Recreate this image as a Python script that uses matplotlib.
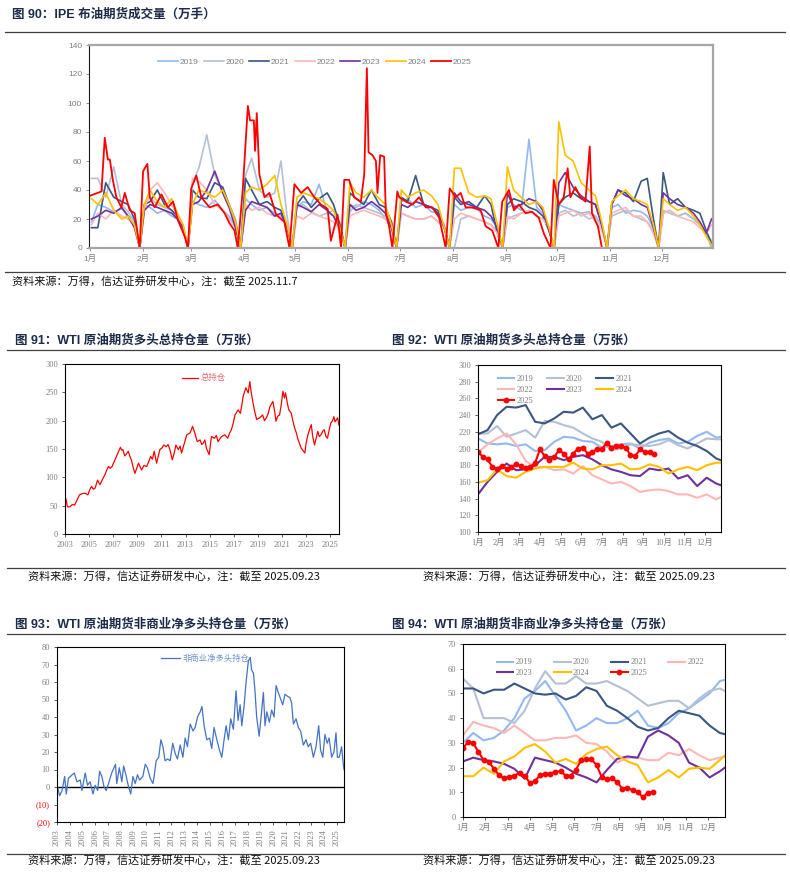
import matplotlib
matplotlib.use("Agg")
import matplotlib.pyplot as plt
from matplotlib.lines import Line2D

W, H = 790, 873

plt.rcParams['font.family'] = ['Liberation Sans', 'Noto Sans CJK SC']
plt.rcParams['axes.unicode_minus'] = False

YEARS = ["2019", "2020", "2021", "2022", "2023", "2024", "2025"]
COLORS = {
    "2019": "#92B9F2", "2020": "#B4C0D4", "2021": "#3A5683", "2022": "#FFB6B6",
    "2023": "#7030A0", "2024": "#FFC000", "2025": "#FF0000",
}
MONTHS = ["1月", "2月", "3月", "4月", "5月", "6月", "7月", "8月", "9月", "10月", "11月", "12月"]
MONTH_STARTS = [0, 31, 59, 90, 120, 151, 181, 212, 243, 273, 304, 334, 365]
GRID_FRACS = [0.03, 0.15, 0.3, 0.45, 0.6, 0.72, 0.84, 0.94]  # 8 readings per month

# ---- fig 90: IPE Brent volume (10k lots), 8 readings per month for past years
P90 = {
    "2019": [18, 30, 28, 25, 27, 22, 20, 0, 30, 28, 24, 26, 22, 20, 15, 0,
             32, 30, 28, 33, 26, 22, 14, 0, 34, 30, 26, 28, 24, 22, 16, 0,
             28, 32, 30, 44, 25, 22, 12, 0, 30, 28, 32, 30, 26, 20, 14, 0,
             32, 34, 28, 30, 25, 24, 16, 0, 30, 26, 28, 27, 22, 20, 14, 0,
             28, 30, 26, 75, 28, 24, 14, 0, 30, 28, 26, 24, 25, 22, 15, 0,
             28, 30, 24, 26, 25, 22, 14, 0, 24, 26, 22, 24, 20, 16, 10, 0],
    "2020": [48, 48, 35, 56, 30, 25, 18, 0, 30, 35, 30, 28, 26, 20, 12, 0,
             45, 55, 78, 50, 40, 30, 20, 0, 50, 62, 40, 35, 38, 60, 22, 0,
             28, 30, 25, 22, 24, 26, 18, 0, 25, 30, 28, 26, 24, 22, 18, 0,
             24, 22, 20, 20, 22, 18, 14, 0, 0, 20, 22, 20, 18, 16, 12, 0,
             20, 22, 24, 26, 22, 20, 14, 0, 24, 26, 22, 24, 20, 22, 14, 0,
             22, 24, 26, 22, 20, 18, 12, 0, 26, 24, 22, 24, 20, 18, 10, 5],
    "2021": [14, 14, 45, 35, 32, 30, 20, 0, 30, 32, 40, 30, 26, 22, 14, 0,
             40, 35, 34, 45, 42, 30, 18, 0, 48, 40, 30, 32, 28, 26, 15, 0,
             30, 36, 28, 34, 38, 30, 16, 0, 38, 34, 30, 40, 30, 28, 18, 0,
             35, 32, 50, 30, 28, 26, 14, 0, 35, 30, 32, 28, 36, 30, 10, 0,
             30, 34, 32, 28, 26, 22, 12, 0, 30, 35, 38, 34, 32, 30, 16, 0,
             30, 40, 38, 32, 46, 48, 20, 0, 52, 30, 34, 28, 26, 24, 12, 3],
    "2022": [16, 24, 20, 26, 22, 20, 16, 0, 26, 40, 45, 38, 30, 22, 14, 0,
             48, 46, 40, 30, 26, 20, 14, 0, 30, 26, 28, 24, 22, 22, 16, 0,
             22, 20, 24, 22, 20, 18, 12, 0, 22, 24, 26, 24, 22, 20, 14, 0,
             24, 22, 20, 20, 22, 18, 14, 0, 20, 24, 22, 20, 18, 16, 10, 0,
             22, 20, 24, 26, 22, 20, 14, 0, 22, 24, 26, 22, 24, 18, 12, 0,
             24, 26, 28, 22, 22, 18, 10, 0, 24, 26, 22, 20, 18, 14, 10, 16],
    "2023": [20, 22, 26, 24, 28, 22, 14, 0, 26, 30, 28, 26, 24, 20, 14, 0,
             30, 32, 40, 53, 38, 28, 14, 0, 26, 32, 30, 28, 22, 24, 14, 0,
             30, 28, 25, 30, 26, 22, 14, 0, 30, 26, 28, 32, 28, 24, 14, 0,
             30, 28, 32, 30, 28, 24, 14, 0, 38, 32, 30, 28, 26, 22, 14, 0,
             38, 28, 30, 34, 32, 26, 12, 0, 45, 52, 42, 36, 32, 30, 16, 0,
             30, 40, 36, 34, 30, 28, 14, 0, 38, 34, 30, 28, 24, 18, 10, 20],
    "2024": [34, 30, 38, 26, 20, 22, 16, 0, 30, 40, 32, 28, 34, 24, 16, 0,
             30, 40, 38, 35, 40, 30, 18, 0, 38, 42, 40, 44, 50, 30, 16, 0,
             35, 38, 36, 34, 30, 26, 14, 0, 45, 38, 35, 40, 34, 30, 16, 0,
             40, 35, 38, 40, 36, 30, 14, 0, 55, 55, 38, 35, 36, 34, 16, 0,
             56, 40, 35, 30, 32, 28, 14, 0, 87, 64, 60, 45, 40, 36, 18, 0,
             32, 36, 40, 34, 32, 30, 16, 0, 34, 30, 26, 28, 22, 16, 8, 2],
}
# 2025 daily readings: (day of year, volume)
P90_2025 = [
    (0, 36), (6.8, 39), (8.7, 76), (10.5, 61), (11.7, 61), (13.4, 47), (15.5, 35),
    (18.4, 28), (20.4, 38), (23.3, 26), (26.2, 24), (29.1, 0), (31.1, 53), (33.6, 58),
    (35, 35), (37.9, 28), (41.8, 37), (45.6, 28), (48.6, 32), (51.5, 19), (55.4, 8),
    (57.3, 0), (59.2, 41), (62.2, 50), (65.1, 35), (69.9, 28), (74.8, 30), (78.7, 24),
    (81.6, 17), (84.5, 12), (86.4, 0), (89.3, 40), (92.3, 98), (93.6, 88), (95.8, 88),
    (96.5, 67), (97.5, 93), (99, 51), (102, 35), (104.9, 38), (108.8, 23), (113.6, 18),
    (116.6, 0), (119.5, 44), (123.4, 38), (127.2, 42), (131.1, 35), (135, 30),
    (138.9, 27), (140.8, 5), (144.7, 23), (146.7, 0), (148.6, 47), (151.5, 47),
    (154.4, 35), (158.3, 32), (160.3, 51), (161.8, 124), (162.8, 66), (165.1, 64),
    (167.1, 60), (168, 38), (169.6, 64), (171.9, 63), (172.9, 24), (174.8, 15),
    (176.7, 0), (179.6, 39), (180.7, 35), (184.6, 32), (188.4, 30), (192.3, 35),
    (196.2, 28), (200.1, 28), (204, 21), (207.9, 0), (210.2, 41), (213.7, 35),
    (216.6, 38), (219.5, 28), (223.4, 28), (228.3, 26), (231.2, 15), (235.1, 12),
    (238.6, 0), (240.9, 32), (244.8, 40), (247.7, 26), (250.6, 30), (254.5, 24),
    (258.3, 25), (262.2, 21), (265.2, 10), (269.1, 0), (271, 47), (273.9, 30),
    (276.8, 35), (279.1, 55), (280.7, 35), (283.6, 42), (286.5, 35), (289.5, 32),
    (292, 70), (293.3, 24), (296.8, 15), (299.1, 0),
]

# ---- fig 91: WTI total long open interest (10k contracts)
P91 = [
    (2003.0, 66), (2003.1, 60), (2003.2, 48), (2003.4, 48), (2003.6, 52), (2003.8, 51),
    (2004.0, 60), (2004.2, 69), (2004.4, 71), (2004.66, 72), (2004.9, 69), (2005.05, 78),
    (2005.2, 84), (2005.35, 79), (2005.5, 81), (2005.7, 95), (2005.9, 87), (2006.1, 96),
    (2006.3, 104), (2006.45, 112), (2006.6, 119), (2006.75, 116), (2006.9, 119),
    (2007.15, 131), (2007.4, 143), (2007.6, 153), (2007.7, 148), (2007.8, 149),
    (2007.95, 138), (2008.05, 140), (2008.25, 146), (2008.4, 136), (2008.5, 131),
    (2008.65, 118), (2008.8, 107), (2008.95, 116), (2009.1, 125), (2009.35, 113),
    (2009.55, 121), (2009.77, 119), (2009.95, 128), (2010.1, 137), (2010.25, 132),
    (2010.4, 146), (2010.6, 125), (2010.75, 138), (2010.87, 149), (2011.05, 152),
    (2011.2, 157), (2011.4, 154), (2011.55, 158), (2011.7, 149), (2011.9, 131),
    (2012.05, 142), (2012.2, 157), (2012.4, 149), (2012.55, 155), (2012.67, 143),
    (2012.86, 157), (2013.1, 175), (2013.36, 178), (2013.5, 185), (2013.58, 190),
    (2013.77, 178), (2013.97, 163), (2014.2, 166), (2014.35, 158), (2014.46, 160),
    (2014.6, 166), (2014.74, 151), (2014.96, 140), (2015.15, 172), (2015.4, 169),
    (2015.55, 174), (2015.7, 163), (2015.98, 172), (2016.26, 175), (2016.5, 169),
    (2016.65, 178), (2016.8, 184), (2016.95, 195), (2017.1, 210), (2017.36, 219),
    (2017.55, 213), (2017.65, 225), (2017.78, 243), (2018.0, 258), (2018.2, 249),
    (2018.33, 269), (2018.45, 250), (2018.6, 231), (2018.75, 215), (2018.9, 202),
    (2019.15, 205), (2019.4, 210), (2019.55, 200), (2019.7, 205), (2019.85, 212),
    (2020.0, 225), (2020.25, 234), (2020.4, 215), (2020.5, 199), (2020.65, 208),
    (2020.8, 210), (2020.95, 230), (2021.08, 252), (2021.2, 240), (2021.3, 249),
    (2021.45, 230), (2021.57, 219), (2021.77, 213), (2021.9, 200), (2022.05, 187),
    (2022.2, 178), (2022.3, 169), (2022.45, 160), (2022.6, 151), (2022.75, 147),
    (2022.9, 143), (2023.0, 160), (2023.15, 175), (2023.3, 185), (2023.43, 193),
    (2023.55, 172), (2023.7, 157), (2023.85, 170), (2023.97, 181), (2024.1, 172),
    (2024.24, 175), (2024.4, 182), (2024.5, 184), (2024.65, 172), (2024.77, 169),
    (2024.9, 182), (2025.05, 196), (2025.2, 200), (2025.3, 207), (2025.4, 198),
    (2025.5, 201), (2025.62, 205), (2025.72, 192),
]

# ---- fig 93: WTI non-commercial net long (10k contracts)
P93 = [
    (2003.05, 0), (2003.2, -5), (2003.4, -2), (2003.6, 6), (2003.73, -4), (2003.9, 5),
    (2004.2, 7), (2004.36, 8), (2004.57, 3), (2004.83, 4), (2004.96, -2), (2005.22, 8),
    (2005.4, 1), (2005.6, 3), (2005.83, -4), (2006.0, 1), (2006.2, -2), (2006.35, 9),
    (2006.53, 6), (2006.7, 0), (2006.87, -2), (2007.05, 2), (2007.3, 8), (2007.6, 13),
    (2007.7, 2), (2007.9, 11), (2008.1, 3), (2008.24, 12), (2008.45, 6), (2008.63, 0),
    (2008.8, -4), (2008.97, 6), (2009.15, 2), (2009.33, 7), (2009.5, 4), (2009.75, 6),
    (2009.94, 13), (2010.1, 11), (2010.33, 5), (2010.54, 2), (2010.64, 6), (2010.8, 15),
    (2011.0, 17), (2011.17, 27), (2011.33, 23), (2011.5, 15), (2011.7, 16), (2011.9, 15),
    (2012.1, 25), (2012.3, 19), (2012.47, 16), (2012.69, 24), (2012.9, 17), (2013.08, 28),
    (2013.26, 23), (2013.47, 36), (2013.7, 32), (2013.86, 34), (2014.05, 40), (2014.26, 43),
    (2014.4, 46), (2014.57, 35), (2014.78, 27), (2015.0, 28), (2015.17, 22), (2015.35, 34),
    (2015.57, 27), (2015.78, 21), (2015.96, 17), (2016.14, 27), (2016.3, 35), (2016.48, 27),
    (2016.66, 39), (2016.87, 33), (2017.08, 55), (2017.24, 38), (2017.4, 47), (2017.53, 35),
    (2017.71, 46), (2017.87, 60), (2018.05, 72), (2018.2, 74), (2018.3, 67), (2018.45, 65),
    (2018.58, 54), (2018.7, 40), (2018.9, 29), (2019.1, 44), (2019.23, 54), (2019.36, 35),
    (2019.5, 43), (2019.7, 37), (2019.88, 44), (2020.07, 40), (2020.23, 58), (2020.4, 54),
    (2020.6, 50), (2020.75, 47), (2020.93, 53), (2021.1, 52), (2021.32, 51), (2021.45, 48),
    (2021.59, 36), (2021.8, 39), (2021.98, 34), (2022.16, 32), (2022.37, 24), (2022.58, 27),
    (2022.76, 23), (2022.95, 25), (2023.16, 17), (2023.37, 23), (2023.58, 35), (2023.73, 21),
    (2023.9, 17), (2024.07, 30), (2024.25, 25), (2024.4, 28), (2024.6, 17), (2024.78, 20),
    (2024.94, 31), (2025.05, 17), (2025.2, 17), (2025.38, 23), (2025.5, 14), (2025.57, 10),
]

# ---- fig 92 / 94: weekly by year; past years read every 2nd week plus week 51
WEEKS_PAST = [0, 2, 4, 6, 8, 10, 12, 14, 16, 18, 20, 22, 24, 26, 28, 30, 32, 34,
              36, 38, 40, 42, 44, 46, 48, 50, 51]
P92 = {
    "2019": [212, 206, 205, 206, 203, 205, 197, 198, 208, 214, 213, 209, 208, 201,
             203, 205, 206, 200, 207, 210, 212, 206, 208, 215, 220, 213, 214],
    "2020": [218, 218, 227, 214, 218, 222, 213, 233, 232, 228, 225, 218, 212, 208,
             198, 200, 205, 204, 203, 205, 210, 204, 200, 206, 212, 211, 211],
    "2021": [217, 222, 240, 250, 249, 252, 232, 230, 236, 244, 243, 249, 235, 240,
             225, 230, 218, 206, 213, 218, 221, 213, 207, 203, 197, 188, 186],
    "2022": [195, 205, 212, 218, 205, 185, 178, 178, 174, 175, 170, 179, 168, 163,
             158, 160, 155, 148, 150, 151, 149, 145, 145, 141, 145, 139, 142],
    "2023": [145, 160, 172, 182, 174, 175, 180, 190, 190, 186, 190, 192, 187, 180,
             175, 172, 168, 167, 176, 174, 176, 164, 168, 155, 165, 158, 156],
    "2024": [159, 162, 175, 167, 165, 172, 176, 178, 178, 178, 183, 176, 175, 180,
             180, 182, 175, 176, 181, 178, 170, 175, 178, 174, 180, 183, 183],
}
P92_2025 = [196, 190, 187, 178, 176, 179, 176, 178, 181, 179, 177, 178, 183, 199,
            191, 186, 190, 198, 194, 187, 194, 200, 201, 194, 196, 199, 199, 207,
            201, 203, 203, 201, 192, 191, 199, 196, 196, 193]

P94 = {
    "2019": [30, 34, 31, 32, 35, 40, 48, 51, 55, 49, 43, 35, 37, 40, 38, 38, 40,
             43, 37, 36, 38, 42, 44, 47, 50, 55, 55.5],
    "2020": [56, 52, 40, 40, 40, 38, 43, 52, 59, 54, 54, 57, 54, 54, 55, 53, 51,
             48, 45, 46, 47, 47, 44, 48, 51, 52, 51],
    "2021": [52, 52, 50, 51.5, 51.5, 54, 52, 50, 49.5, 50, 47.5, 49, 52.5, 51, 45,
             43, 40, 36.5, 35, 36, 40, 43, 42, 41, 37, 34, 33.5],
    "2022": [33, 38.5, 37, 36, 34, 37, 34, 31, 31, 32, 32, 33, 30, 29.5, 26.5, 22,
             24, 24, 23, 23, 26, 25, 27.5, 25, 23, 24, 24.5],
    "2023": [22.5, 24, 23, 22.5, 21.5, 19.5, 15.5, 24, 23, 22, 20, 17.5, 16, 14, 19,
             23.5, 24.5, 24, 32.5, 35, 33, 30, 22, 20, 16, 18.5, 20],
    "2024": [16.5, 16.5, 20, 17.5, 22.5, 24.5, 28, 29.5, 26.5, 22, 23.5, 21.5, 25.5,
             27.5, 28.5, 25, 22.5, 21, 14, 16, 19, 16, 19.5, 20, 19.5, 23, 25],
}
P94_2025 = [27.8, 30.5, 29.8, 26.4, 23, 22.3, 19.6, 16.9, 15.6, 16.2, 16.7, 17.9,
            16.7, 13.8, 14.5, 16.9, 17.6, 17.6, 18.3, 18.5, 16.7, 16.7, 19.2, 23,
            23.3, 23.3, 21, 16.2, 15.2, 15.6, 14.2, 11.5, 11.9, 10.8, 10.2, 7.9,
            9.9, 10.2]

TITLE_C = "#1C2B4A"
TICK_C = "#7F7F7F"
SERIF = ["Liberation Serif", "Noto Sans CJK SC"]
SANS = ["Liberation Sans", "Noto Sans CJK SC"]
CJK = ["Noto Sans CJK SC", "Liberation Sans"]


def fx(x):
    return x / W


def fy(y):
    return 1 - y / H


def add_axes(left, top, right, bottom):
    return fig.add_axes([fx(left), fy(bottom), (right - left) / W, (bottom - top) / H])


def header(x, y, text):
    fig.text(fx(x), fy(y), text, fontsize=9, fontweight="bold", color=TITLE_C,
             ha="left", va="center", family=SANS)


def rule(x0, x1, y, lw=0.9):
    fig.add_artist(Line2D([fx(x0), fx(x1)], [fy(y), fy(y)], color="#404040", lw=lw))


def source(x, y, date):
    fig.text(fx(x), fy(y), "资料来源：万得，信达证券研发中心，注：截至 " + date,
             fontsize=8, style="italic", color="#111111", ha="left", va="center",
             family=CJK)


def style_ticks(ax, family, size=6):
    for lab in ax.get_xticklabels() + ax.get_yticklabels():
        lab.set_family(family)
        lab.set_fontsize(size)
        lab.set_color(TICK_C)


def box(ax, color="#000000", lw=0.8):
    for sp in ax.spines.values():
        sp.set_color(color)
        sp.set_linewidth(lw)


fig = plt.figure(figsize=(W / 100, H / 100), dpi=100)

# ================= fig 90 =================
header(12, 15, "图 90：IPE 布油期货成交量（万手）")
rule(5, 785, 32)
ax = add_axes(89, 45, 713, 248)
grid_x = []
for s, e in zip(MONTH_STARTS[:-1], MONTH_STARTS[1:]):
    grid_x += [s + (e - s) * f for f in GRID_FRACS]
for yr in YEARS[:-1]:
    ax.plot(grid_x, P90[yr], color=COLORS[yr], lw=1.2, label=yr)
ax.plot([p[0] for p in P90_2025], [p[1] for p in P90_2025], color=COLORS["2025"],
        lw=1.3, label="2025")
ax.set_xlim(-0.5, 364)
ax.set_ylim(0, 140)
ax.set_yticks(range(0, 141, 20))
ax.set_xticks(MONTH_STARTS[:12])
ax.set_xticklabels(MONTHS)
ax.tick_params(length=2, width=0.6, color="#7F7F7F", pad=3)
style_ticks(ax, SANS, 6)
for k in ("top", "right", "bottom"):
    ax.spines[k].set_color("#A6A6A6")
    ax.spines[k].set_linewidth(1.6)
ax.spines["left"].set_color("#1a1a1a")
ax.spines["left"].set_linewidth(0.8)
leg = ax.legend(loc="center", bbox_to_anchor=(0.362, 0.916), ncol=7, frameon=False,
                handlelength=2.4, handletextpad=0.2, columnspacing=0.62,
                prop={"family": SANS, "size": 6})
for t in leg.get_texts():
    t.set_color(TICK_C)
rule(5, 785, 272)
source(12, 282, "2025.11.7")

# ================= fig 91 =================
header(15, 341, "图 91：WTI 原油期货多头总持仓量（万张）")
rule(7, 785, 350)
ax = add_axes(65, 364, 339, 534)
ax.plot([p[0] for p in P91], [p[1] for p in P91], color="#FF0000", lw=0.9, label="总持仓")
ax.set_xlim(2003, 2025.73)
ax.set_ylim(0, 300)
ax.set_yticks(range(0, 301, 50))
ax.set_xticks(range(2003, 2026, 2))
ax.tick_params(length=2, width=0.6, color="#404040", pad=3)
style_ticks(ax, SERIF, 6)
box(ax)
leg = ax.legend(loc="center", bbox_to_anchor=(0.507, 0.918), frameon=False,
                handlelength=2.0, handletextpad=0.3, prop={"family": CJK, "size": 6})
for t in leg.get_texts():
    t.set_color("#E06666")

# ================= fig 92 =================
header(392, 341, "图 92：WTI 原油期货多头总持仓量（万张）")
ax = add_axes(478, 365, 721, 532)
handles = {}
for yr in YEARS[:-1]:
    handles[yr], = ax.plot(WEEKS_PAST, P92[yr], color=COLORS[yr], lw=1.5, label=yr)
handles["2025"], = ax.plot(range(len(P92_2025)), P92_2025, color=COLORS["2025"], lw=1.5,
                           marker="o", markersize=3.2, label="2025")
ax.set_xlim(0, 51)
ax.set_ylim(100, 300)
ax.set_yticks(range(100, 301, 20))
ax.set_xticks([i * 52 / 12 for i in range(12)])
ax.set_xticklabels(MONTHS)
ax.tick_params(length=2, width=0.6, color="#404040", pad=3)
style_ticks(ax, SERIF, 6)
box(ax)
order = ["2019", "2022", "2025", "2020", "2023", "2021", "2024"]
leg = ax.legend([handles[k] for k in order], order, loc="upper left",
                bbox_to_anchor=(0.05, 0.985), ncol=3, frameon=False, handlelength=2.0,
                handletextpad=0.3, columnspacing=1.6, labelspacing=0.35,
                prop={"family": SERIF, "size": 6})
for t in leg.get_texts():
    t.set_color(TICK_C)
rule(7, 785, 568)
source(28, 577, "2025.09.23")
source(423, 577, "2025.09.23")

# ================= fig 93 =================
header(15, 625, "图 93：WTI 原油期货非商业净多头持仓量（万张）")
rule(7, 785, 634)
ax = add_axes(57, 647, 344, 822)
ax.axhline(0, color="#000000", lw=1.0)
ax.plot([p[0] for p in P93], [p[1] for p in P93], color="#4472C4", lw=0.9,
        label="非商业净多头持仓")
ax.set_xlim(2003, 2025.57)
ax.set_ylim(-20, 80)
yt = list(range(-20, 81, 10))
ax.set_yticks(yt)
ax.set_yticklabels([f"({-v})" if v < 0 else str(v) for v in yt])
ax.set_xticks(range(2003, 2026))
ax.set_xticklabels([str(y) for y in range(2003, 2026)], rotation=90)
ax.tick_params(length=2, width=0.6, color="#404040", pad=3)
style_ticks(ax, SERIF, 6)
for v, lab in zip(yt, ax.get_yticklabels()):
    if v < 0:
        lab.set_color("#FF0000")
box(ax)
leg = ax.legend(loc="center", bbox_to_anchor=(0.516, 0.937), frameon=False,
                handlelength=2.2, handletextpad=0.3, prop={"family": CJK, "size": 6})
for t in leg.get_texts():
    t.set_color("#6A8FD0")

# ================= fig 94 =================
header(392, 625, "图 94：WTI 原油期货非商业净多头持仓量（万张）")
ax = add_axes(463, 644, 725, 817)
handles = {}
for yr in YEARS[:-1]:
    handles[yr], = ax.plot(WEEKS_PAST, P94[yr], color=COLORS[yr], lw=1.5, label=yr)
handles["2025"], = ax.plot(range(len(P94_2025)), P94_2025, color=COLORS["2025"], lw=1.5,
                           marker="o", markersize=3.2, label="2025")
ax.set_xlim(0, 51)
ax.set_ylim(0, 70)
ax.set_yticks(range(0, 71, 10))
ax.set_xticks([i * 52 / 12 for i in range(12)])
ax.set_xticklabels(MONTHS)
ax.tick_params(length=2, width=0.6, color="#404040", pad=3)
style_ticks(ax, SERIF, 6)
box(ax)
order = ["2019", "2023", "2020", "2024", "2021", "2025", "2022"]
leg = ax.legend([handles[k] for k in order], order, loc="upper left",
                bbox_to_anchor=(0.1, 0.96), ncol=4, frameon=False, handlelength=2.0,
                handletextpad=0.3, columnspacing=2.55, labelspacing=0.35,
                prop={"family": SERIF, "size": 6})
for t in leg.get_texts():
    t.set_color(TICK_C)
rule(7, 785, 854)
source(28, 861, "2025.09.23")
source(423, 861, "2025.09.23")

fig.savefig("out.png", dpi=100)
